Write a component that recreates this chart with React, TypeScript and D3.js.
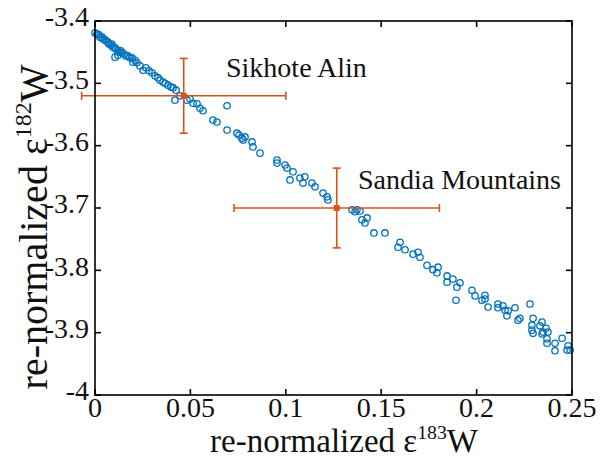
import React from "react";
import * as d3 from "d3";

const W = 608;
const H = 467;
const M = { top: 21, right: 36, bottom: 72, left: 95 };

const BLUE = "#0072BD";
const ORANGE = "#D95319";
const FONT = "'Liberation Serif', 'Times New Roman', serif";

// re-normalized e183W / e182W measurements
const xVals = [
  0.0, 0.001, 0.002, 0.0026, 0.0037, 0.0042, 0.0052, 0.0058, 0.0068, 0.0073,
  0.0084, 0.0089, 0.0094, 0.0105, 0.011, 0.012, 0.0126, 0.0136, 0.0142, 0.0152,
  0.0105, 0.012, 0.0162, 0.0173, 0.0183, 0.0194, 0.0199, 0.021, 0.022, 0.0236,
  0.0252, 0.0267, 0.0283, 0.0299, 0.0314, 0.033, 0.0341, 0.0356, 0.0367, 0.0383,
  0.0398, 0.0409, 0.0425, 0.0419, 0.0445, 0.0482, 0.0498, 0.0514, 0.0535, 0.055,
  0.0566, 0.0692, 0.0618, 0.0639, 0.0692, 0.0744, 0.0755, 0.077, 0.0786, 0.0776,
  0.0823, 0.0828, 0.0865, 0.0954, 0.0954, 0.0996, 0.1006, 0.1038, 0.1022, 0.1074,
  0.11, 0.109, 0.1137, 0.1153, 0.1195, 0.1216, 0.1221, 0.1347, 0.1363, 0.1373,
  0.1389, 0.1399, 0.1426, 0.1415, 0.1462, 0.152, 0.1599, 0.1588, 0.1625, 0.1667,
  0.1693, 0.1703, 0.174, 0.1771, 0.1798, 0.1792, 0.1845, 0.1845, 0.1876, 0.1913,
  0.1897, 0.1892, 0.1976, 0.1992, 0.2044, 0.2044, 0.2028, 0.206, 0.2112, 0.2112,
  0.2138, 0.2149, 0.2165, 0.2159, 0.2201, 0.228, 0.2217, 0.2227, 0.2296, 0.229,
  0.229, 0.2296, 0.2343, 0.2332, 0.2348, 0.2343, 0.2364, 0.2374, 0.2369, 0.2369,
  0.2411, 0.2411, 0.2448, 0.2474, 0.2479, 0.249
];
const yVals = [
  -3.419, -3.421, -3.422, -3.426, -3.426, -3.429, -3.43, -3.432, -3.434, -3.437,
  -3.439, -3.437, -3.442, -3.443, -3.445, -3.447, -3.45, -3.448, -3.451, -3.453,
  -3.458, -3.455, -3.456, -3.456, -3.459, -3.459, -3.466, -3.463, -3.467, -3.472,
  -3.479, -3.475, -3.48, -3.483, -3.488, -3.491, -3.495, -3.498, -3.5, -3.503,
  -3.506, -3.507, -3.511, -3.527, -3.52, -3.527, -3.525, -3.532, -3.533, -3.54,
  -3.544, -3.536, -3.559, -3.562, -3.575, -3.58, -3.583, -3.588, -3.586, -3.591,
  -3.594, -3.602, -3.612, -3.623, -3.628, -3.631, -3.636, -3.642, -3.655, -3.652,
  -3.65, -3.66, -3.66, -3.666, -3.676, -3.682, -3.687, -3.703, -3.706, -3.703,
  -3.705, -3.719, -3.716, -3.724, -3.74, -3.74, -3.755, -3.763, -3.767, -3.774,
  -3.771, -3.779, -3.792, -3.799, -3.795, -3.804, -3.809, -3.819, -3.814, -3.82,
  -3.827, -3.848, -3.832, -3.841, -3.84, -3.846, -3.848, -3.859, -3.854, -3.86,
  -3.857, -3.864, -3.865, -3.873, -3.86, -3.854, -3.88, -3.877, -3.877, -3.888,
  -3.896, -3.901, -3.883, -3.889, -3.899, -3.902, -3.893, -3.899, -3.91, -3.917,
  -3.917, -3.929, -3.909, -3.928, -3.921, -3.928
];

// terrestrial samples with 2 sigma errors
const sampleNames = ["Sikhote Alin", "Sandia Mountains"];
const sampleX = [0.0465, 0.1267];
const sampleY = [-3.52, -3.7];
const sampleXErr = [0.0535, 0.0538];
const sampleYErr = [0.06, 0.064];
const labelPos = [[226, 77], [358, 189]];

const xTicks = [0, 0.05, 0.1, 0.15, 0.2, 0.25];
const yTicks = [-3.4, -3.5, -3.6, -3.7, -3.8, -3.9, -4];

export default function App() {
  const x = d3.scaleLinear().domain([0, 0.25]).range([M.left, W - M.right]);
  const y = d3.scaleLinear().domain([-4, -3.4]).range([H - M.bottom, M.top]);
  const [x0, x1] = x.range();
  const [y0, y1] = y.range();
  const tl = 6;
  const cap = 4;

  return (
    <svg width={W} height={H} style={{ position: "absolute", left: 0, top: 0, background: "#fff" }}
      fontFamily={FONT}>
      {/* points */}
      <g fill="none" stroke={BLUE} strokeWidth={1.3}>
        {xVals.map((v, i) => (
          <circle key={i} cx={x(v)} cy={y(yVals[i])} r={3.2} />
        ))}
      </g>

      {/* error bars */}
      <g stroke={ORANGE} strokeWidth={1.6}>
        {sampleX.map((v, i) => {
          const cx = x(v), cy = y(sampleY[i]);
          const xl = x(v - sampleXErr[i]), xr = x(v + sampleXErr[i]);
          const yt = y(sampleY[i] + sampleYErr[i]), yb = y(sampleY[i] - sampleYErr[i]);
          return (
            <g key={i}>
              <line x1={xl} x2={xr} y1={cy} y2={cy} />
              <line x1={xl} x2={xl} y1={cy - cap} y2={cy + cap} />
              <line x1={xr} x2={xr} y1={cy - cap} y2={cy + cap} />
              <line x1={cx} x2={cx} y1={yt} y2={yb} />
              <line x1={cx - cap} x2={cx + cap} y1={yt} y2={yt} />
              <line x1={cx - cap} x2={cx + cap} y1={yb} y2={yb} />
              <rect x={cx - 3} y={cy - 3} width={6} height={6} fill={ORANGE} stroke="none" />
            </g>
          );
        })}
      </g>

      {/* frame and ticks */}
      <g stroke="#000" strokeWidth={1.6}>
        <rect x={x0} y={y1} width={x1 - x0} height={y0 - y1} fill="none" />
        {xTicks.map(t => (
          <g key={t}>
            <line x1={x(t)} x2={x(t)} y1={y0} y2={y0 - tl} />
            <line x1={x(t)} x2={x(t)} y1={y1} y2={y1 + tl} />
          </g>
        ))}
        {yTicks.map(t => (
          <g key={t}>
            <line x1={x0} x2={x0 + tl} y1={y(t)} y2={y(t)} />
            <line x1={x1} x2={x1 - tl} y1={y(t)} y2={y(t)} />
          </g>
        ))}
      </g>

      <g fontSize={28} fill="#111">
        {xTicks.map(t => (
          <text key={t} x={x(t)} y={y0 + 22} textAnchor="middle">{String(t)}</text>
        ))}
        {yTicks.map(t => (
          <text key={t} x={x0 - 6} y={y(t) - 4} dy="0.33em" textAnchor="end">{String(t)}</text>
        ))}
      </g>

      <g fontSize={28} fill="#111">
        {sampleNames.map((n, i) => (
          <text key={n} x={labelPos[i][0]} y={labelPos[i][1]}>{n}</text>
        ))}
      </g>

      <text x={344} y={452} textAnchor="middle" fontSize={33} fill="#111">
        re-normalized ε<tspan fontSize="0.6em" dy="-0.65em">183</tspan><tspan dy="0.4em">W</tspan>
      </text>
      <text transform={`translate(47,227) rotate(-90)`} textAnchor="middle" fontSize={40} fill="#111">
        re-normalized ε<tspan fontSize="0.6em" dy="-0.65em">182</tspan><tspan dy="0.4em">W</tspan>
      </text>
    </svg>
  );
}
